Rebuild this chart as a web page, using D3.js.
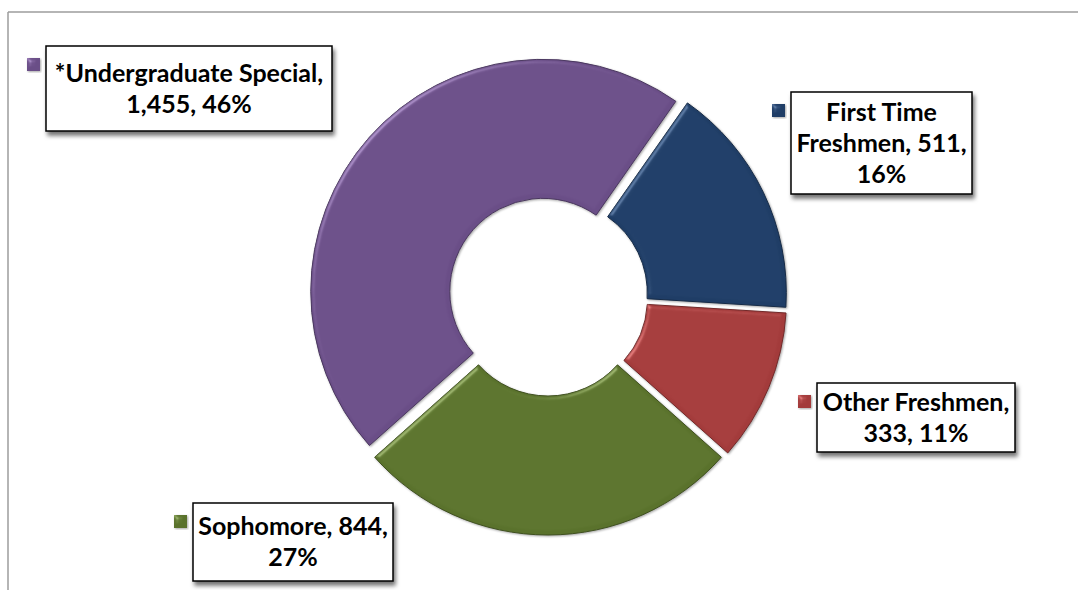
<!DOCTYPE html>
<html lang="en">
  <head>
    <meta charset="UTF-8" />
    <title>Undergraduate Enrollment Doughnut</title>
    <script src="https://d3js.org/d3.v7.min.js"></script>
    <style>
      body {
        margin: 0;
        background: #fff;
      }
      .label text {
        font-family: Lato, "Open Sans", sans-serif;
        font-weight: bold;
        font-size: 25px;
        fill: #000;
      }
      filter {
        color-interpolation-filters: sRGB;
      }
    </style>
  </head>
  <body>
    <svg width="1078" height="590"></svg>

    <script>
      const categories = ["First Time Freshmen", "Other Freshmen", "Sophomore", "*Undergraduate Special"];
      const values = [511, 333, 844, 1455];
      const colors = ["#1F3D66", "#A33B3B", "#5A722C", "#6A4E87"];

      // label box placement (manual, as in the original)
      const labelBoxes = [
        {x: 791, y: 92, w: 181, h: 102},
        {x: 817, y: 383, w: 198, h: 69},
        {x: 193, y: 503, w: 200, h: 78},
        {x: 46, y: 46, w: 286, h: 85},
      ];

      const svg = d3.select("svg"),
        cx = 548,
        cy = 296,
        outerR = 232,
        innerR = 93,
        explode = 7,
        startDeg = 35;

      const total = d3.sum(values);
      const data = categories.map((c, i) => ({
        name: c,
        value: values[i],
        pct: Math.round((values[i] / total) * 100),
        color: colors[i],
        box: labelBoxes[i],
      }));

      const defs = svg.append("defs");

      // bevel-ish lighting for the slices
      const bevel = defs.append("filter").attr("id", "bevel").attr("x", "-10%").attr("y", "-10%").attr("width", "120%").attr("height", "120%");
      bevel.append("feGaussianBlur").attr("in", "SourceAlpha").attr("stdDeviation", 2).attr("result", "blur");
      bevel
        .append("feSpecularLighting")
        .attr("in", "blur")
        .attr("surfaceScale", 3)
        .attr("specularConstant", 0.5)
        .attr("specularExponent", 20)
        .attr("lighting-color", "#fff")
        .attr("result", "spec")
        .append("feDistantLight")
        .attr("azimuth", 225)
        .attr("elevation", 30);
      bevel.append("feComposite").attr("in", "spec").attr("in2", "SourceAlpha").attr("operator", "in").attr("result", "specIn");
      bevel
        .append("feComposite")
        .attr("in", "SourceGraphic")
        .attr("in2", "specIn")
        .attr("operator", "arithmetic")
        .attr("k1", 0)
        .attr("k2", 1)
        .attr("k3", 0.5)
        .attr("k4", 0)
        .attr("result", "lit");
      bevel.append("feDropShadow").attr("dx", 1).attr("dy", 1).attr("stdDeviation", 1.2).attr("flood-color", "#000").attr("flood-opacity", 0.35);

      const shadow = defs.append("filter").attr("id", "boxShadow").attr("x", "-10%").attr("y", "-10%").attr("width", "125%").attr("height", "140%");
      shadow.append("feDropShadow").attr("dx", 2).attr("dy", 4).attr("stdDeviation", 2).attr("flood-color", "#000").attr("flood-opacity", 0.55);

      // chart area frame (top and left edges visible)
      svg.append("line").attr("x1", 8).attr("y1", 12).attr("x2", 1078).attr("y2", 12).attr("stroke", "#9d9d9d").attr("stroke-width", 1.5);
      svg.append("line").attr("x1", 8).attr("y1", 12).attr("x2", 8).attr("y2", 590).attr("stroke", "#9d9d9d").attr("stroke-width", 1.5);

      const pie = d3
        .pie()
        .sort(null)
        .value((d) => d.value)
        .startAngle((startDeg * Math.PI) / 180)
        .endAngle((startDeg * Math.PI) / 180 + 2 * Math.PI);

      const arc = d3.arc().innerRadius(innerR).outerRadius(outerR);

      const g = svg.append("g").attr("transform", `translate(${cx},${cy})`);

      g.selectAll("path")
        .data(pie(data))
        .join("path")
        .attr("d", arc)
        .attr("transform", (d) => {
          const mid = (d.startAngle + d.endAngle) / 2;
          return `translate(${explode * Math.sin(mid)},${-explode * Math.cos(mid)})`;
        })
        .attr("fill", (d) => d.data.color)
        .attr("stroke", (d) => d3.color(d.data.color).darker(1))
        .attr("stroke-width", 1)
        .attr("filter", "url(#bevel)");

      // data labels
      const labels = svg.selectAll("g.label").data(data).join("g").attr("class", "label");

      labels
        .append("rect")
        .attr("x", (d) => d.box.x)
        .attr("y", (d) => d.box.y)
        .attr("width", (d) => d.box.w)
        .attr("height", (d) => d.box.h)
        .attr("fill", "#fff")
        .attr("stroke", "#000")
        .attr("stroke-width", 1.5)
        .attr("filter", "url(#boxShadow)");

      labels
        .append("rect")
        .attr("x", (d) => d.box.x - 19)
        .attr("y", (d) => d.box.y + 12)
        .attr("width", 13)
        .attr("height", 13)
        .attr("fill", (d) => d.color)
        .attr("filter", "url(#bevel)");

      const lineH = 31;
      labels.each(function (d) {
        const sel = d3.select(this);
        const words = `${d.name}, ${d3.format(",")(d.value)}, ${d.pct}%`.split(" ");
        const probe = sel.append("text");
        const lines = [];
        let cur = "";
        words.forEach((w) => {
          const test = cur ? cur + " " + w : w;
          probe.text(test);
          if (cur && probe.node().getComputedTextLength() > d.box.w - 4) {
            lines.push(cur);
            cur = w;
          } else cur = test;
        });
        lines.push(cur);
        probe.remove();

        const first = d.box.y + (d.box.h - lines.length * lineH) / 2 + lineH * 0.78;
        sel
          .append("text")
          .attr("text-anchor", "middle")
          .selectAll("tspan")
          .data(lines)
          .join("tspan")
          .attr("x", d.box.x + d.box.w / 2)
          .attr("y", (l, i) => first + i * lineH)
          .text((l) => l);
      });
    </script>
  </body>
</html>
